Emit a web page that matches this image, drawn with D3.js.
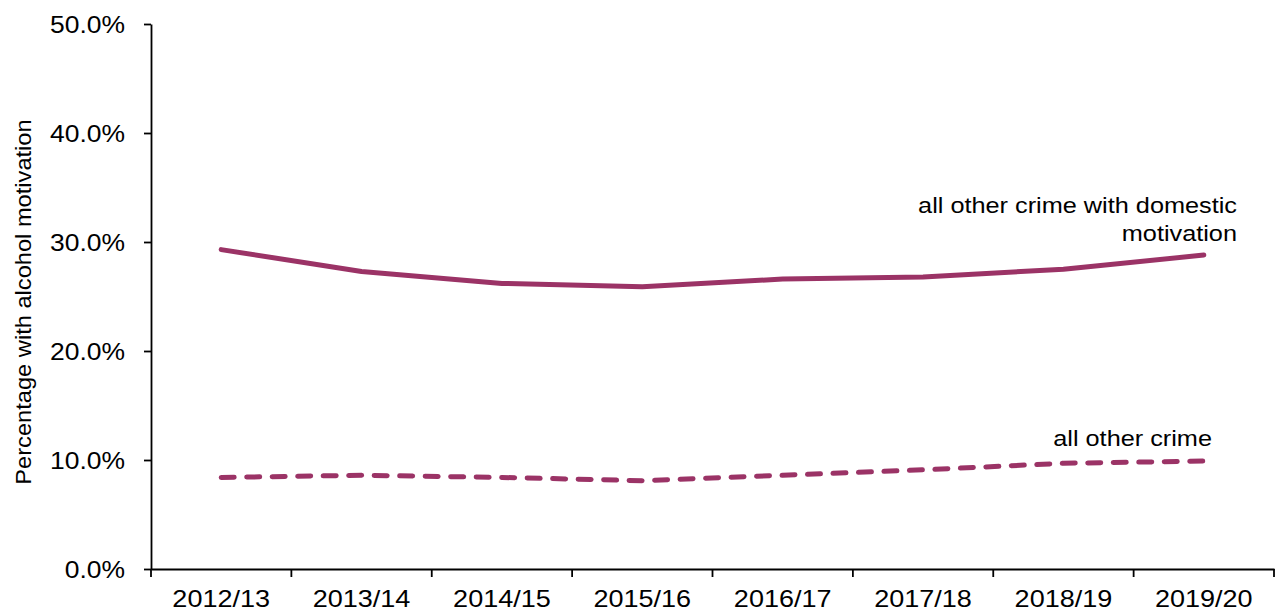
<!DOCTYPE html>
<html>
<head>
<meta charset="utf-8">
<script src="https://cdn.jsdelivr.net/npm/d3@7"></script>
<style>
  body { margin: 0; background: #fff; }
  text { font-family: "Liberation Sans", Arial, sans-serif; fill: #000; }
</style>
</head>
<body>
<svg id="chart" width="1279" height="615"></svg>
<script>
const years = ["2012/13", "2013/14", "2014/15", "2015/16", "2016/17", "2017/18", "2018/19", "2019/20"];
const domesticValues = [29.3, 27.3, 26.2, 25.9, 26.6, 26.8, 27.5, 28.8];
const otherValues = [8.4, 8.6, 8.4, 8.1, 8.6, 9.1, 9.7, 9.9];
const yTicks = [0, 10, 20, 30, 40, 50];

const color = "#9b3366";
const plotLeft = 151, plotRight = 1274, plotTop = 24, plotBottom = 569;
const stretch = 1.15; // the source text is set wide

const svg = d3.select("#chart");

const x = d3.scaleBand().domain(years).range([plotLeft, plotRight]);
const y = d3.scaleLinear().domain([0, 50]).range([plotBottom, plotTop]);

// y axis
const yAxis = svg.append("g")
  .attr("transform", "translate(" + plotLeft + ",0)")
  .call(d3.axisLeft(y).tickValues(yTicks).tickSize(7).tickSizeOuter(0).tickFormat(d => d.toFixed(1) + "%"));
yAxis.select(".domain").attr("stroke", "#000").attr("stroke-width", 1.8);
yAxis.selectAll(".tick line").attr("stroke", "#000").attr("stroke-width", 1.8);
yAxis.selectAll(".tick text")
  .attr("x", -26 / stretch)
  .attr("dy", "0.36em")
  .attr("transform", "scale(" + stretch + ",1)")
  .style("font-size", "23px").attr("fill", "#000");

// x axis
const xAxis = svg.append("g")
  .attr("transform", "translate(0," + plotBottom + ")")
  .call(d3.axisBottom(x).tickSize(0).tickSizeOuter(0));
xAxis.select(".domain").attr("stroke", "#000").attr("stroke-width", 1.8);
xAxis.selectAll(".tick text")
  .attr("y", 38).attr("dy", "0")
  .attr("transform", "scale(" + stretch + ",1)")
  .style("font-size", "23.5px").attr("fill", "#000");
// boundary ticks between categories
xAxis.selectAll(".sep")
  .data(years.concat(["end"]))
  .enter()
  .append("line")
  .attr("x1", (d, i) => i < years.length ? x(d) : x(years[years.length - 1]) + x.bandwidth())
  .attr("x2", (d, i) => i < years.length ? x(d) : x(years[years.length - 1]) + x.bandwidth())
  .attr("y1", 0).attr("y2", 8)
  .attr("stroke", "#000").attr("stroke-width", 1.8);

// y title
svg.append("text")
  .attr("transform", "translate(31,302) rotate(-90) scale(1.1,1)")
  .attr("text-anchor", "middle")
  .style("font-size", "21.5px")
  .text("Percentage with alcohol motivation");

const line = d3.line()
  .x((d, i) => x(years[i]) + x.bandwidth() / 2)
  .y(d => y(d));

svg.append("path")
  .datum(domesticValues)
  .attr("d", line)
  .attr("fill", "none")
  .attr("stroke", color)
  .attr("stroke-width", 5)
  .attr("stroke-linecap", "round")
  .attr("stroke-linejoin", "round");

svg.append("path")
  .datum(otherValues)
  .attr("d", line)
  .attr("fill", "none")
  .attr("stroke", color)
  .attr("stroke-width", 5)
  .attr("stroke-dasharray", "13,12.5")
  .attr("stroke-linecap", "round");

// labels
const lbl = svg.append("text")
  .attr("text-anchor", "end")
  .attr("transform", "scale(" + stretch + ",1)")
  .style("font-size", "22px");
lbl.append("tspan").attr("x", 1237 / stretch).attr("y", 213).text("all other crime with domestic");
lbl.append("tspan").attr("x", 1237 / stretch).attr("y", 241).text("motivation");

svg.append("text")
  .attr("text-anchor", "end")
  .attr("transform", "scale(" + stretch + ",1)")
  .attr("x", 1212 / stretch).attr("y", 446)
  .style("font-size", "22px")
  .text("all other crime");
</script>
</body>
</html>
